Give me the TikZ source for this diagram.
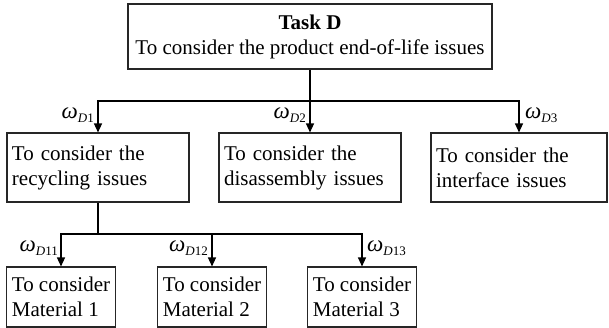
\documentclass[tikz,border=0pt]{standalone}
\usepackage{fontspec}
\setmainfont{Liberation Serif}
\usetikzlibrary{arrows.meta, calc}

\newcommand{\weightD}[1]{{\fontsize{23}{24}\selectfont\textit{ω}}\raisebox{-4.5pt}{\fontsize{13}{14}\selectfont\textit{D}#1}}

\begin{document}
\begin{tikzpicture}[x=1pt, y=-1pt, line cap=butt,
	box/.style={draw=black!85, line width=1.1pt, inner xsep=5pt, inner ysep=0pt, font=\fontsize{21}{25}\selectfont},
	link/.style={line width=1.3pt},
	arrowlink/.style={link, -{Triangle[length=9pt, width=8pt]}},
	weight/.style={inner sep=0pt}]

	\useasboundingbox (0,0) rectangle (609,328);

	\coordinate (bar1) at (0,101);
	\coordinate (bar2) at (0,234);

	\node[box, minimum width=364pt, minimum height=65pt, align=center] (task) at (310,36.5) {\textbf{Task D}\\To consider the product end-of-life issues};

	\node[box, minimum width=182pt, minimum height=69pt, text width=172pt, align=left] (recycle) at (98,167.5) {To consider the\\recycling issues};
	\node[box, minimum width=182pt, minimum height=69pt, text width=172pt, align=left] (disasm) at (310,167.5) {To consider the\\disassembly issues};
	\node[box, minimum width=176pt, minimum height=69pt, text width=166pt, align=left] (iface) at (519,167.5) {To consider the\\interface issues};

	\node[box, minimum width=108pt, minimum height=60pt, align=left] (mat1) at (61,297) {To consider\\Material 1};
	\node[box, minimum width=108pt, minimum height=60pt, align=left] (mat2) at (212,297) {To consider\\Material 2};
	\node[box, minimum width=108pt, minimum height=60pt, align=left] (mat3) at (362,297) {To consider\\Material 3};

	% task D to the three issues
	\draw[link] (task.south) -- (task.south |- bar1);
	\draw[arrowlink] (task.south |- bar1) -| (recycle);
	\draw[arrowlink] (task.south |- bar1) -- (disasm);
	\draw[arrowlink] (task.south |- bar1) -| (iface);

	% recycling to the materials
	\draw[link] (recycle.south) -- (recycle.south |- bar2);
	\draw[arrowlink] (recycle.south |- bar2) -| (mat1);
	\draw[arrowlink] (recycle.south |- bar2) -| (mat2);
	\draw[arrowlink] (recycle.south |- bar2) -| (mat3);

	\node[weight, anchor=east] (w1) at (94,115) {\weightD{1}};
	\node[weight, anchor=east] (w2) at (306,115) {\weightD{2}};
	\node[weight, anchor=west] (w3) at (525,115) {\weightD{3}};

	\node[weight, anchor=east] (w11) at (58,248) {\weightD{11}};
	\node[weight, anchor=east] (w12) at (208,248) {\weightD{12}};
	\node[weight, anchor=west] (w13) at (367,248) {\weightD{13}};

\end{tikzpicture}
\end{document}
